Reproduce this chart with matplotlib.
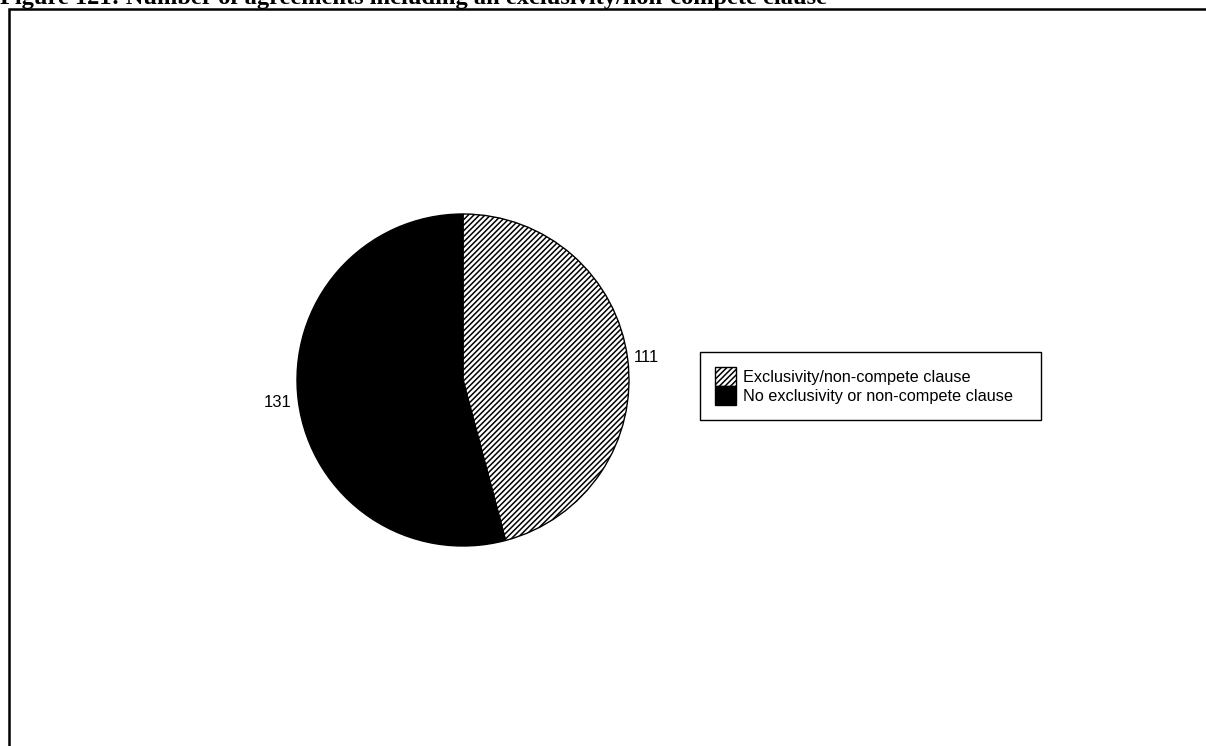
import matplotlib
matplotlib.use('Agg')
import matplotlib.pyplot as plt
from matplotlib.patches import Rectangle

title = 'Figure 121: Number of agreements including an exclusivity/non-compete clause'
labels = ['Exclusivity/non-compete clause', 'No exclusivity or non-compete clause']
counts = [111, 131]
hatches = ['//////', '']
colors = ['white', 'black']

plt.rcParams['font.family'] = ['Liberation Sans', 'DejaVu Sans']
plt.rcParams['hatch.linewidth'] = 1.1

W, H = 1206, 746
fig = plt.figure(figsize=(W / 100, H / 100), dpi=100)

# outer frame, runs off the right and bottom edges like the scanned page
fig.patches.append(Rectangle((9 / W, -0.2), 1.2, (H - 9) / H + 0.2, transform=fig.transFigure,
                             fill=False, ec='black', lw=1.8, clip_on=False))
# title is mostly cropped off the top of the page
fig.text(0.0, (H - 4) / H, title, family='Liberation Serif', weight='bold', fontsize=17.6,
         ha='left', va='baseline')

# pie: centre (463, 380) px, radius 166 px
cx, cy, r = 463, 380, 166
ax = fig.add_axes([(cx - r) / W, (H - cy - r) / H, 2 * r / W, 2 * r / H])
wedges, texts = ax.pie(counts, labels=[str(c) for c in counts], colors=colors,
                       startangle=90, counterclock=False, labeldistance=1.04,
                       wedgeprops=dict(edgecolor='black', linewidth=1.0),
                       textprops=dict(fontsize=12))
for w, h in zip(wedges, hatches):
    w.set_hatch(h)
ax.set_xlim(-1, 1)
ax.set_ylim(-1, 1)
ax.set_aspect('equal')

leg = fig.legend(wedges, labels, loc='upper left', mode='expand',
                 bbox_to_anchor=(700 / W, (H - 422) / H, 341 / W, 70 / H), fontsize=11.7,
                 frameon=True, fancybox=False, edgecolor='black', framealpha=1,
                 labelspacing=0.0, handlelength=1.25, handleheight=1.38,
                 handletextpad=0.45, borderpad=0.95, borderaxespad=0)
leg.get_frame().set_linewidth(1.0)

fig.savefig('out.png', dpi=100)
